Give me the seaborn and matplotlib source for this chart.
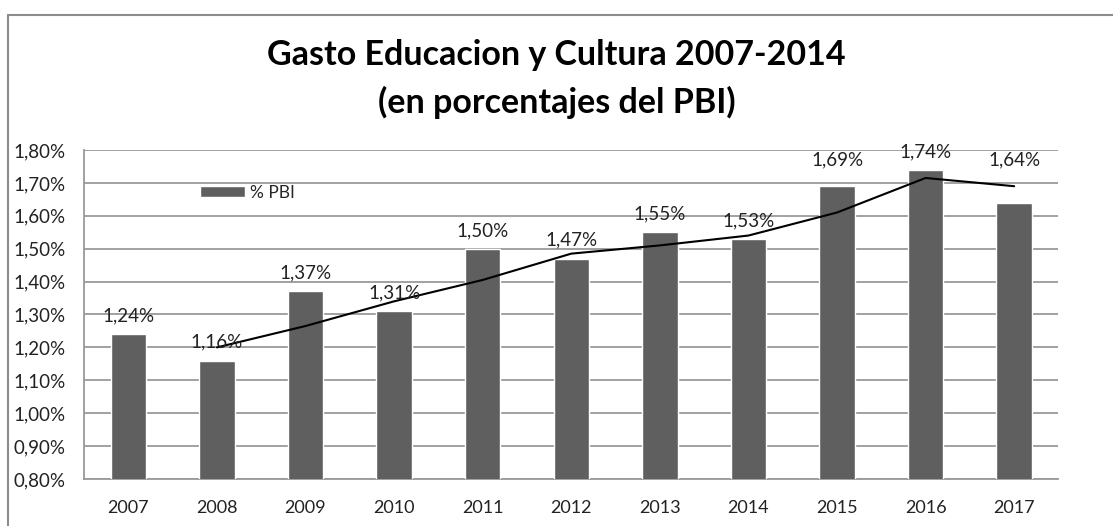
import seaborn as sns
import pandas as pd
import matplotlib
matplotlib.use('Agg')
from matplotlib import pyplot as plt
from matplotlib.lines import Line2D
from matplotlib.ticker import FuncFormatter

years = ['2007', '2008', '2009', '2010', '2011', '2012',
         '2013', '2014', '2015', '2016', '2017']
pbi_pct = [1.24, 1.16, 1.37, 1.31, 1.50, 1.47, 1.55, 1.53, 1.69, 1.74, 1.64]
# trend line (2-period moving average), from 2008 on
trend_years = ['2008', '2009', '2010', '2011', '2012',
               '2013', '2014', '2015', '2016', '2017']
trend_pct = [1.20, 1.265, 1.34, 1.405, 1.485, 1.51, 1.54, 1.61, 1.715, 1.69]

# some labels were pushed up above the trend line in the original
label_lift = {'2015': 6, '2017': 18}

df = pd.DataFrame({'year': years, 'pct': pbi_pct})

sns.set_style('white')
plt.rcParams['font.family'] = ['Lato', 'DejaVu Sans']

fig = plt.figure(figsize=(11.13, 5.26), dpi=100)
ax = fig.add_axes([0.0755, 0.0894, 0.8755, 0.6254])

sns.barplot(data=df, x='year', y='pct', color='#5f5f5f', saturation=1,
            width=0.4, ax=ax, label='% PBI', zorder=3)

pos = [years.index(y) for y in trend_years]
sns.lineplot(x=pos, y=trend_pct, color='black', linewidth=1.5, ax=ax,
             zorder=4, legend=False)

for i, v in enumerate(pbi_pct):
    dy = 7 + label_lift.get(years[i], 0)
    ax.annotate(f'{v:.2f}%'.replace('.', ','), (i, v), xytext=(0, dy),
                textcoords='offset points', ha='center', va='bottom',
                fontsize=13.5, color='#222222', zorder=5)

ax.set_ylim(0.80, 1.80)
ax.set_yticks([0.8 + 0.1 * k for k in range(11)])
ax.yaxis.set_major_formatter(FuncFormatter(lambda v, p: f'{v:.2f}%'.replace('.', ',')))
ax.set_xlim(-0.5, len(years) - 0.5)
ax.set_xlabel('')
ax.set_ylabel('')
ax.grid(axis='y', color='#9a9a9a', linewidth=1.3, zorder=0)
ax.tick_params(axis='y', length=0, pad=13, labelsize=13.5, labelcolor='#222222')
ax.tick_params(axis='x', length=0, pad=15, labelsize=13, labelcolor='#222222')
for side in ['top', 'right']:
    ax.spines[side].set_visible(False)
for side in ['left', 'bottom']:
    ax.spines[side].set_color('#9a9a9a')
    ax.spines[side].set_linewidth(1.3)

leg = ax.legend(loc='center left', bbox_to_anchor=(0.110, 0.87), frameon=False,
                fontsize=12.5, handlelength=2.6, handleheight=0.55, handletextpad=0.3,
                borderpad=0)

fig.text(0.5, 0.895, 'Gasto Educacion y Cultura 2007-2014', ha='center',
         va='center', fontsize=24.5, fontweight='bold', color='black')
fig.text(0.5, 0.806, '(en porcentajes del PBI)', ha='center',
         va='center', fontsize=24.5, fontweight='bold', color='black')

# outer chart frame
fig.add_artist(Line2D([8 / 1113, 8 / 1113], [0, 1 - 15 / 526],
                      transform=fig.transFigure, color='#8c8c8c', linewidth=1.5))
fig.add_artist(Line2D([8 / 1113, 1], [1 - 15 / 526, 1 - 15 / 526],
                      transform=fig.transFigure, color='#8c8c8c', linewidth=1.5))

fig.savefig('out.png', dpi=100)
